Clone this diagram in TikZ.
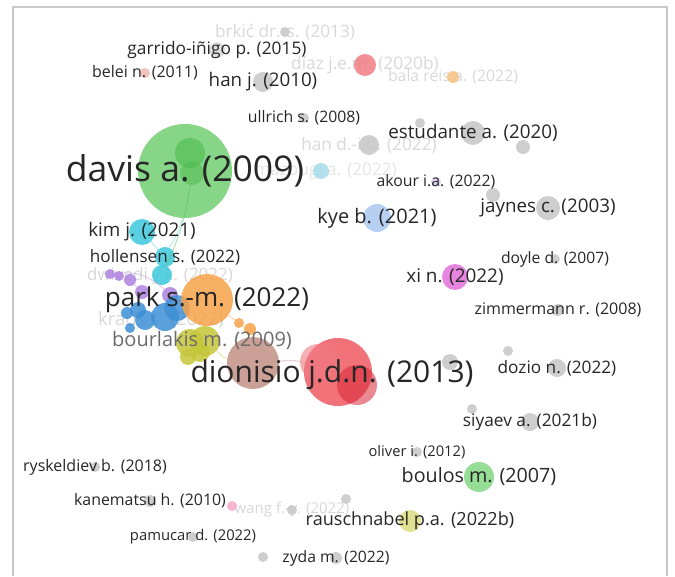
\documentclass[tikz,border=0pt]{standalone}
\usepackage{fontspec}
\setmainfont{Open Sans}
\usepackage{tikz}
\usetikzlibrary{positioning}
\definecolor{VOS_Green}{HTML}{72CE72}
\definecolor{VOS_DarkGreen}{HTML}{4CBA4C}
\definecolor{VOS_Red}{HTML}{EE5A62}
\definecolor{VOS_DarkRed}{HTML}{D82838}
\definecolor{VOS_LightRed}{HTML}{F07C84}
\definecolor{VOS_Orange}{HTML}{F7A24A}
\definecolor{VOS_Cyan}{HTML}{3CC8DC}
\definecolor{VOS_Blue}{HTML}{3D8FD6}
\definecolor{VOS_Purple}{HTML}{AE82DE}
\definecolor{VOS_Olive}{HTML}{C6C63A}
\definecolor{VOS_Brown}{HTML}{BE887C}
\definecolor{VOS_Magenta}{HTML}{E070D8}
\definecolor{VOS_SkyBlue}{HTML}{AAC8EE}
\definecolor{VOS_Gray}{HTML}{C6C6C6}
\definecolor{VOS_Pink}{HTML}{F4A8C8}
\definecolor{VOS_Salmon}{HTML}{F0B8B0}
\definecolor{VOS_Lavender}{HTML}{DCC8F0}
\definecolor{VOS_PaleCyan}{HTML}{A4DCE8}
\definecolor{VOS_Yellow}{HTML}{DCDC80}
\definecolor{VOS_PaleGreen}{HTML}{84D884}
\definecolor{VOS_PaleOrange}{HTML}{F5C080}
\definecolor{VOS_Label}{HTML}{262626}
\definecolor{VOS_Faded}{HTML}{D8D8D8}
\definecolor{VOS_Frame}{HTML}{C8C8C8}
\newcommand{\fsz}[1]{\fontsize{#1}{#1}\selectfont}

\begin{document}
\begin{tikzpicture}[x=1pt, y=-1pt,
    bub/.style={circle, draw=none, inner sep=0pt, minimum size=2*#1, fill opacity=0.85},
    lbl/.style={inner sep=0pt, text=VOS_Label, font=\fsz{#1}},
    fad/.style={inner sep=0pt, text=VOS_Faded, font=\fsz{#1}},
    link/.style={line width=1.2pt, opacity=0.35}]
    \useasboundingbox (0,0) rectangle (675,576);
    % Frame
    \draw[VOS_Frame, line width=2pt] (13,576) -- (13,7) -- (667,7) -- (667,576);
    % Coordinates of the items
    \coordinate (c-brkic) at (285,32);
    \coordinate (c-diaz) at (365,65);
    \coordinate (c-bala) at (453,77);
    \coordinate (c-hand) at (369,145);
    \coordinate (c-dwivedi) at (160,276);
    \coordinate (c-kraus) at (161,320);
    \coordinate (c-wang) at (292,510);
    % Faded labels (behind the circles)
    \node[fad=17.2] (brkic-l) at (c-brkic) {brkić dr. s. (2013)};
    \node[fad=17.3] (diaz-l) at (c-diaz) {díaz j.e.m. (2020b)};
    \node[fad=15.8] (bala-l) at (c-bala) {bala reis a. (2022)};
    \node[fad=17.2] (hand-l) at (c-hand) {han d.-i.d. (2022)};
    \node[fad=17.2, text=black!10, anchor=east] (zougi-l) at (397,171) {mazougi a. (2022)};
    \node[fad=17] (dwivedi-l) at (c-dwivedi) {dwivedi y.k. (2022)};
    \node[fad=18.5] (kraus-l) at (c-kraus) {kraus s. (2022)};
    \node[fad=15] (wang-l) at (c-wang) {wang f.-y. (2022)};
    % Main cluster circles
    \node[bub=47, fill=VOS_Green] (davis) at (185,171) {};
    \node[bub=15, fill=VOS_DarkGreen, fill opacity=0.6] (davis-a) at (190,153) {};
    \node[bub=12, fill=VOS_DarkGreen, fill opacity=0.5] (davis-b) at (192,173) {};
    \node[bub=13, fill=VOS_Cyan] (kim) at (142,232) {};
    \node[bub=10, fill=VOS_Cyan] (hollensen) at (165,257) {};
    \node[bub=10, fill=VOS_Cyan] (cyan-b) at (162,275) {};
    \node[bub=5, fill=VOS_Purple] (purple-a) at (110,274) {};
    \node[bub=5, fill=VOS_Purple] (purple-b) at (119,276) {};
    \node[bub=6, fill=VOS_Purple] (purple-c) at (130,280) {};
    \node[bub=7, fill=VOS_Purple] (purple-d) at (142,292) {};
    \node[bub=8, fill=VOS_Purple] (purple-e) at (170,295) {};
    \node[bub=5, fill=VOS_Blue] (blue-a) at (130,328) {};
    \node[bub=6, fill=VOS_Blue] (blue-b) at (127,313) {};
    \node[bub=8, fill=VOS_Blue] (blue-c) at (138,310) {};
    \node[bub=10, fill=VOS_Blue] (blue-d) at (145,320) {};
    \node[bub=14, fill=VOS_Blue] (blue-e) at (165,317) {};
    \node[bub=13, fill=VOS_Blue] (blue-f) at (177,308) {};
    \node[bub=14, fill=VOS_Olive] (olive-a) at (190,343) {};
    \node[bub=15, fill=VOS_Olive] (olive-b) at (205,341) {};
    \node[bub=8, fill=VOS_Olive] (olive-c) at (188,357) {};
    \node[bub=10, fill=VOS_Olive] (olive-d) at (200,352) {};
    \node[bub=26, fill=VOS_Orange] (park) at (207,300) {};
    \node[bub=5, fill=VOS_Orange] (orange-a) at (239,323) {};
    \node[bub=6, fill=VOS_Orange] (orange-b) at (250,329) {};
    \node[bub=26, fill=VOS_Brown, fill opacity=0.8] (brown) at (253,363) {};
    \node[bub=34, fill=VOS_Red] (dionisio) at (338,372) {};
    \node[bub=18, fill=VOS_LightRed, fill opacity=0.6] (red-a) at (318,362) {};
    \node[bub=20, fill=VOS_DarkRed, fill opacity=0.55] (red-b) at (357,385) {};
    % Links inside the cluster
    \draw[link, VOS_DarkGreen] (davis-b) to[bend left=8] (cyan-b);
    \draw[link, VOS_Cyan] (davis) to[bend left=10] (hollensen);
    \draw[link, VOS_Cyan] (kim) -- (hollensen);
    \draw[link, VOS_Cyan] (hollensen) -- (cyan-b);
    \draw[link, VOS_Purple] (purple-a) to[bend left=25] (purple-e);
    \draw[link, VOS_Purple] (purple-c) -- (purple-d);
    \draw[link, VOS_Orange] (park) -- (orange-a);
    \draw[link, VOS_Orange] (orange-a) -- (orange-b);
    \draw[link, VOS_Olive] (olive-b) to[bend right=15] (brown);
    \draw[link, VOS_Brown] (brown) to[bend left=10] (dionisio);
    % Other circles
    \node[bub=5, fill=VOS_Gray] (brkic) at (c-brkic) {};
    \node[bub=8, fill=VOS_Gray, fill opacity=0.6] (garrido) at (217,50) {};
    \node[bub=5, fill=VOS_Salmon] (belei) at (145,73) {};
    \node[bub=10, fill=VOS_Gray] (hanj) at (263,82) {};
    \node[bub=11, fill=VOS_LightRed] (diaz) at (c-diaz) {};
    \node[bub=6, fill=VOS_PaleOrange] (bala) at (c-bala) {};
    \node[bub=5, fill=VOS_Gray] (ullrich) at (304,118) {};
    \node[bub=5, fill=VOS_Gray] (gray-a) at (420,123) {};
    \node[bub=12, fill=VOS_Gray] (estudante) at (473,133) {};
    \node[bub=7, fill=VOS_Gray] (gray-b) at (523,147) {};
    \node[bub=10, fill=VOS_Gray] (hand) at (c-hand) {};
    \node[bub=8, fill=VOS_PaleCyan] (zougi) at (321,171) {};
    \node[bub=5, fill=VOS_Lavender] (akour) at (436,182) {};
    \node[bub=7, fill=VOS_Gray] (gray-c) at (493,195) {};
    \node[bub=12, fill=VOS_Gray] (jaynes) at (548,208) {};
    \node[bub=14, fill=VOS_SkyBlue] (kye) at (377,218) {};
    \node[bub=5, fill=VOS_Gray] (doyle) at (555,259) {};
    \node[bub=13, fill=VOS_Magenta] (xi) at (455,277) {};
    \node[bub=6, fill=VOS_Gray] (zimmermann) at (558,310) {};
    \node[bub=5, fill=VOS_Gray] (gray-d) at (508,351) {};
    \node[bub=8, fill=VOS_Gray] (gray-e) at (450,362) {};
    \node[bub=9, fill=VOS_Gray] (dozio) at (557,368) {};
    \node[bub=5, fill=VOS_Gray] (gray-f) at (472,409) {};
    \node[bub=9, fill=VOS_Gray] (siyaev) at (530,422) {};
    \node[bub=5, fill=VOS_Gray] (oliver) at (417,452) {};
    \node[bub=15, fill=VOS_PaleGreen] (boulos) at (479,477) {};
    \node[bub=5, fill=VOS_Gray] (gray-g) at (346,499) {};
    \node[bub=11, fill=VOS_Yellow] (rauschnabel) at (410,521) {};
    \node[bub=5, fill=VOS_Gray] (ryskeldiev) at (95,467) {};
    \node[bub=6, fill=VOS_Gray] (kanematsu) at (150,501) {};
    \node[bub=5, fill=VOS_Pink] (pink-a) at (232,506) {};
    \node[bub=5, fill=VOS_Gray] (wang) at (c-wang) {};
    \node[bub=5, fill=VOS_Gray] (pamucar) at (193,537) {};
    \node[bub=5, fill=VOS_Gray] (gray-h) at (263,557) {};
    \node[bub=6, fill=VOS_Gray] (zyda) at (336,558) {};
    % Labels
    \node[lbl=35.5] (davis-l) at (davis) {davis a. (2009)};
    \node[lbl=30] (dionisio-l) at (332,375) {dionisio j.d.n. (2013)};
    \node[lbl=26] (park-l) at (park) {park s.-m. (2022)};
    \node[lbl=20, text=black!58] (bourlakis-l) at (202,340) {bourlakis m. (2009)};
    \node[lbl=18.8] (kim-l) at (kim) {kim j. (2021)};
    \node[lbl=17.1] (hollensen-l) at (hollensen) {hollensen s. (2022)};
    \node[lbl=17.3] (garrido-l) at (garrido) {garrido-iñigo p. (2015)};
    \node[lbl=16] (belei-l) at (belei) {belei n. (2011)};
    \node[lbl=18.75] (hanj-l) at (hanj) {han j. (2010)};
    \node[lbl=15.8] (ullrich-l) at (ullrich) {ullrich s. (2008)};
    \node[lbl=18.8] (estudante-l) at (estudante) {estudante a. (2020)};
    \node[lbl=15.8] (akour-l) at (akour) {akour i.a. (2022)};
    \node[lbl=18.8] (jaynes-l) at (jaynes) {jaynes c. (2003)};
    \node[lbl=20] (kye-l) at (kye) {kye b. (2021)};
    \node[lbl=15.7] (doyle-l) at (doyle) {doyle d. (2007)};
    \node[lbl=18.9] (xi-l) at (xi) {xi n. (2022)};
    \node[lbl=16] (zimmermann-l) at (zimmermann) {zimmermann r. (2008)};
    \node[lbl=17.2] (dozio-l) at (dozio) {dozio n. (2022)};
    \node[lbl=17.3] (siyaev-l) at (siyaev) {siyaev a. (2021b)};
    \node[lbl=14.7] (oliver-l) at (oliver) {oliver i. (2012)};
    \node[lbl=19.7] (boulos-l) at (boulos) {boulos m. (2007)};
    \node[lbl=18.1] (rauschnabel-l) at (rauschnabel) {rauschnabel p.a. (2022b)};
    \node[lbl=16] (ryskeldiev-l) at (ryskeldiev) {ryskeldiev b. (2018)};
    \node[lbl=15.9] (kanematsu-l) at (kanematsu) {kanematsu h. (2010)};
    \node[lbl=14.8] (pamucar-l) at (pamucar) {pamucar d. (2022)};
    \node[lbl=15.7] (zyda-l) at (zyda) {zyda m. (2022)};
\end{tikzpicture}
\end{document}
